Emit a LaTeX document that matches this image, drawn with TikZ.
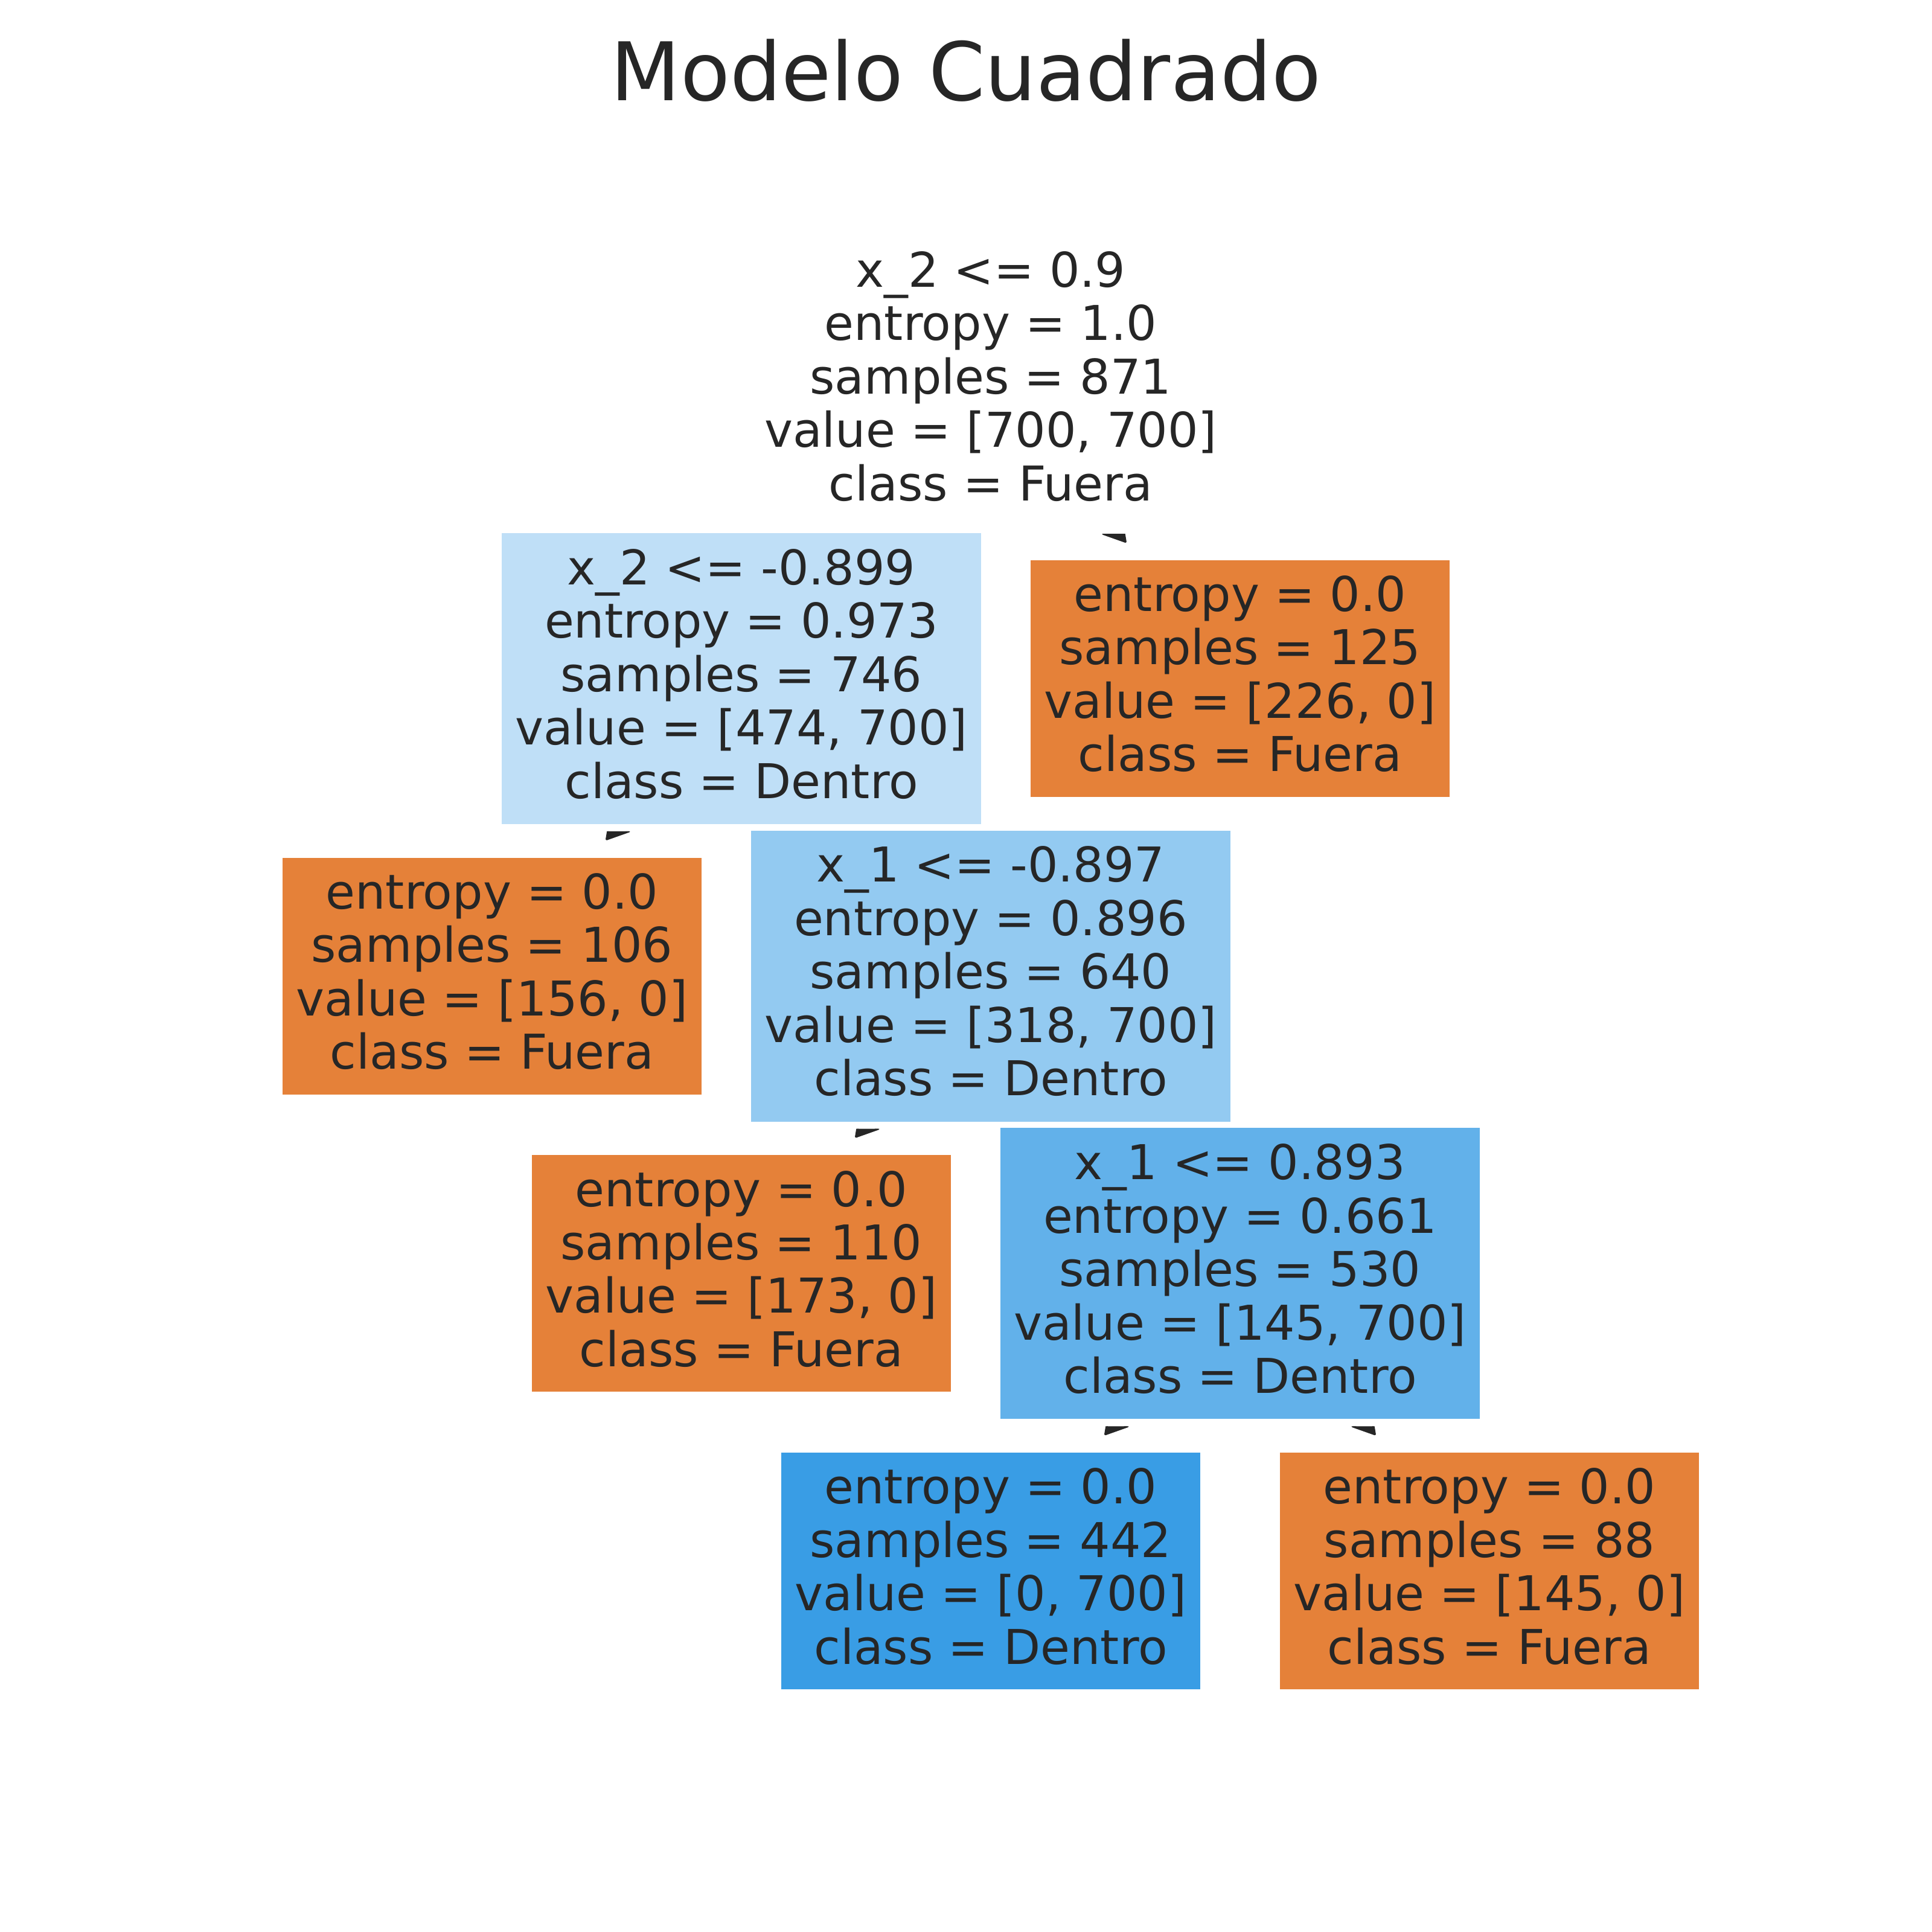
\documentclass[tikz,border=0pt]{standalone}
\usepackage{fontspec}
\setmainfont{DejaVu Sans}
\usetikzlibrary{arrows.meta,calc}
\definecolor{ink}{HTML}{262626}
\definecolor{fuera}{HTML}{E58139}
\definecolor{dentro}{HTML}{399DE5}
\definecolor{mixA}{HTML}{BFDFF7}
\definecolor{mixB}{HTML}{93CAF1}
\definecolor{mixC}{HTML}{62B1EA}
\tikzset{
  splitbox/.style ={fill=white, text=ink, inner sep=0pt, align=center,
                    minimum width=7.94cm, minimum height=4.82cm,
                    font=\fontsize{22.6pt}{25.18pt}\selectfont,
                    execute at begin node={\rule{0pt}{0.6cm}},
                    execute at end node={\rule[-0.16cm]{0pt}{0.16cm}}},
  leafbox/.style  ={splitbox, minimum width=6.94cm, minimum height=3.92cm},
  treearrow/.style={draw=ink, line width=1pt, -{Triangle[angle=60:0.45cm, round]}},
  ttl/.style      ={text=ink, font=\fontsize{38.1pt}{45pt}\selectfont, anchor=base},
}

\begin{document}
\begin{tikzpicture}[x=4.13cm, y=-4.9275cm]
\path[use as bounding box] (-16.41cm,6.31cm) rectangle (15.59cm,-25.69cm);
\node[ttl] (title) at (-0.41cm,4.65cm) {Modelo Cuadrado};
% tree, one grid step per column / depth
\node[splitbox] (n0) at (0,0) {x\_2 <= 0.9\\entropy = 1.0\\samples = 871\\value = [700, 700]\\class = Fuera};
\node[splitbox, fill=mixA] (n1) at (-1,1) {x\_2 <= -0.899\\entropy = 0.973\\samples = 746\\value = [474, 700]\\class = Dentro};
\node[leafbox, fill=fuera] (n2) at (1,1) {entropy = 0.0\\samples = 125\\value = [226, 0]\\class = Fuera};
\node[leafbox, fill=fuera] (n3) at (-2,2) {entropy = 0.0\\samples = 106\\value = [156, 0]\\class = Fuera};
\node[splitbox, fill=mixB] (n4) at (0,2) {x\_1 <= -0.897\\entropy = 0.896\\samples = 640\\value = [318, 700]\\class = Dentro};
\node[leafbox, fill=fuera] (n5) at (-1,3) {entropy = 0.0\\samples = 110\\value = [173, 0]\\class = Fuera};
\node[splitbox, fill=mixC] (n6) at (1,3) {x\_1 <= 0.893\\entropy = 0.661\\samples = 530\\value = [145, 700]\\class = Dentro};
\node[leafbox, fill=dentro] (n7) at (0,4) {entropy = 0.0\\samples = 442\\value = [0, 700]\\class = Dentro};
\node[leafbox, fill=fuera] (n8) at (2,4) {entropy = 0.0\\samples = 88\\value = [145, 0]\\class = Fuera};
% arrows hidden under the parent boxes, only the heads show
\begin{scope}[even odd rule]
\clip (-16.41cm,6.31cm) rectangle (15.59cm,-25.69cm)
  (n0.north west) rectangle ($(n0.south east)+(0,-0.115cm)$)
  (n1.north west) rectangle ($(n1.south east)+(0,-0.115cm)$)
  (n4.north west) rectangle ($(n4.south east)+(0,-0.115cm)$)
  (n6.north west) rectangle ($(n6.south east)+(0,-0.115cm)$);
\draw[treearrow] (n0.center) -- ($(n0)!0.452!(n1)$);
\draw[treearrow] (n0.center) -- ($(n0)!0.543!(n2)$);
\draw[treearrow] (n1.center) -- ($(n1)!0.543!(n3)$);
\draw[treearrow] (n1.center) -- ($(n1)!0.452!(n4)$);
\draw[treearrow] (n4.center) -- ($(n4)!0.543!(n5)$);
\draw[treearrow] (n4.center) -- ($(n4)!0.452!(n6)$);
\draw[treearrow] (n6.center) -- ($(n6)!0.543!(n7)$);
\draw[treearrow] (n6.center) -- ($(n6)!0.543!(n8)$);
\end{scope}
\end{tikzpicture}
\end{document}
